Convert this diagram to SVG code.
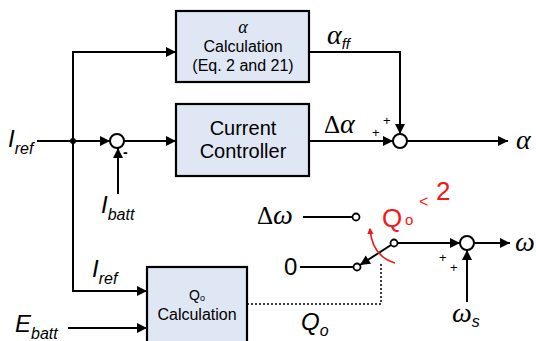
<svg xmlns="http://www.w3.org/2000/svg" width="536" height="341" viewBox="0 0 536 341">
<defs>
<style>
.box{fill:#dfe7f5;stroke:#000;stroke-width:2.2}
.ln{fill:none;stroke:#000;stroke-width:2}
.dot{fill:none;stroke:#000;stroke-width:1.5;stroke-dasharray:2,2}
.sum{fill:#fff;stroke:#000;stroke-width:2}
.ct{fill:#fff;stroke:#000;stroke-width:1.8}
.t{font-family:"Liberation Sans",Arial,sans-serif;fill:#000}
.i{font-family:"Liberation Sans",Arial,sans-serif;font-style:italic;fill:#000}
.g{font-family:"Liberation Serif","Times New Roman",serif;font-style:italic;fill:#000}
.gu{font-family:"Liberation Serif","Times New Roman",serif;fill:#000}
.red{font-family:"Liberation Sans",Arial,sans-serif;fill:#f01818}
</style>
<marker id="ah" viewBox="0 0 10 10" refX="10" refY="5" markerWidth="5.5" markerHeight="5" orient="auto" markerUnits="strokeWidth">
<path d="M0,0 L10,5 L0,10 z" fill="#000"/>
</marker>
<marker id="ahr" viewBox="0 0 10 10" refX="8" refY="5" markerWidth="4" markerHeight="4" orient="auto" markerUnits="strokeWidth">
<path d="M0,0 L10,5 L0,10 z" fill="#f01818"/>
</marker>
</defs>

<g id="connectors">
<line class="ln" x1="37" y1="141" x2="73" y2="141"/>
<line class="ln" x1="73" y1="141" x2="110" y2="141" marker-end="url(#ah)"/>
<polyline class="ln" points="73,141 73,52 176,52" marker-end="url(#ah)"/>
<polyline class="ln" points="73,141 73,291 147,291" marker-end="url(#ah)"/>
<line class="ln" x1="68" y1="328" x2="147" y2="328" marker-end="url(#ah)"/>
<line class="ln" x1="118" y1="194" x2="118" y2="148" marker-end="url(#ah)"/>
<line class="ln" x1="124" y1="141" x2="176" y2="141" marker-end="url(#ah)"/>
<polyline class="ln" points="309,52 400,52 400,134" marker-end="url(#ah)"/>
<line class="ln" x1="309" y1="141" x2="393" y2="141" marker-end="url(#ah)"/>
<line class="ln" x1="407" y1="141" x2="508" y2="141" marker-end="url(#ah)"/>
<line class="ln" x1="303" y1="217" x2="352.5" y2="217"/>
<line class="ln" x1="300" y1="267" x2="353.5" y2="267"/>
<line class="ln" x1="391" y1="245" x2="360" y2="265" marker-end="url(#ah)"/>
<line class="ln" x1="397.5" y1="243" x2="460" y2="243" marker-end="url(#ah)"/>
<line class="ln" x1="474" y1="243" x2="510" y2="243" marker-end="url(#ah)"/>
<line class="ln" x1="467" y1="302" x2="467" y2="250" marker-end="url(#ah)"/>
<polyline class="dot" points="247,304 381,304 381,262"/>
</g>

<g id="junction"><circle cx="73" cy="141" r="3" fill="#000"/></g>

<g id="alphaCalc">
<rect class="box" x="176" y="11" width="133" height="71"/>
<text class="g" x="243" y="33" font-size="18" text-anchor="middle">α</text>
<text class="t" x="243" y="52" font-size="16" text-anchor="middle">Calculation</text>
<text class="t" x="243" y="71" font-size="16" text-anchor="middle">(Eq. 2 and 21)</text>
</g>

<g id="currentCtrl">
<rect class="box" x="176" y="104" width="133" height="72"/>
<text class="t" x="243" y="135" font-size="20" text-anchor="middle">Current</text>
<text class="t" x="243" y="158" font-size="20" text-anchor="middle">Controller</text>
</g>

<g id="qoCalc">
<rect class="box" x="147" y="267" width="100" height="84"/>
<text class="t" x="197" y="300" font-size="14" text-anchor="middle">Q<tspan font-size="9" dy="1">o</tspan></text>
<text class="t" x="197" y="320" font-size="16" text-anchor="middle">Calculation</text>
</g>

<g id="sum1">
<circle class="sum" cx="117" cy="141" r="7"/>
<text class="t" x="123" y="157" font-size="14" font-weight="bold">-</text>
</g>
<g id="sum2">
<circle class="sum" cx="400" cy="141" r="7"/>
<text class="t" x="383" y="125" font-size="13">+</text>
<text class="t" x="372" y="137" font-size="13">+</text>
</g>
<g id="sum3">
<circle class="sum" cx="467" cy="243" r="7"/>
<text class="t" x="439" y="262" font-size="13">+</text>
<text class="t" x="450" y="272" font-size="13">+</text>
</g>

<g id="switch">
<circle class="ct" cx="356" cy="217" r="3.5"/>
<circle class="ct" cx="357" cy="267" r="3.5"/>
<circle class="ct" cx="394" cy="243" r="3.5"/>
</g>

<g id="labels">
<text class="i" x="8" y="147" font-size="24">I<tspan font-size="16" dy="7">ref</tspan></text>
<text class="i" x="101" y="213" font-size="24">I<tspan font-size="16" dy="7">batt</tspan></text>
<text class="i" x="92" y="277" font-size="24">I<tspan font-size="16" dy="7">ref</tspan></text>
<text class="i" x="15" y="332" font-size="24">E<tspan font-size="16" dy="7">batt</tspan></text>
<text class="g" x="327" y="44" font-size="28">α<tspan class="i" font-size="15" dy="5">ff</tspan></text>
<text class="gu" x="324" y="133" font-size="25">Δ<tspan class="g" font-size="28">α</tspan></text>
<text class="g" x="516" y="149" font-size="28">α</text>
<text class="gu" x="257" y="224" font-size="25">Δ<tspan class="g" font-size="28">ω</tspan></text>
<text class="t" x="284" y="275" font-size="24">0</text>
<text class="g" x="515" y="251" font-size="28">ω</text>
<text class="g" x="452" y="322" font-size="28">ω<tspan class="i" font-size="16" dy="5">s</tspan></text>
<text class="i" x="301" y="330" font-size="24">Q<tspan font-size="16" dy="6">o</tspan></text>
</g>

<g id="annotation">
<path d="M395,263 Q372,256 370,229" fill="none" stroke="#f01818" stroke-width="1.6" marker-end="url(#ahr)"/>
<text class="red" x="382" y="227" font-size="26">Q</text>
<text class="red" x="405" y="225" font-size="15">o</text>
<text class="red" x="419" y="207" font-size="16">&lt;</text>
<text class="red" x="436" y="200" font-size="26">2</text>
</g>
</svg>
